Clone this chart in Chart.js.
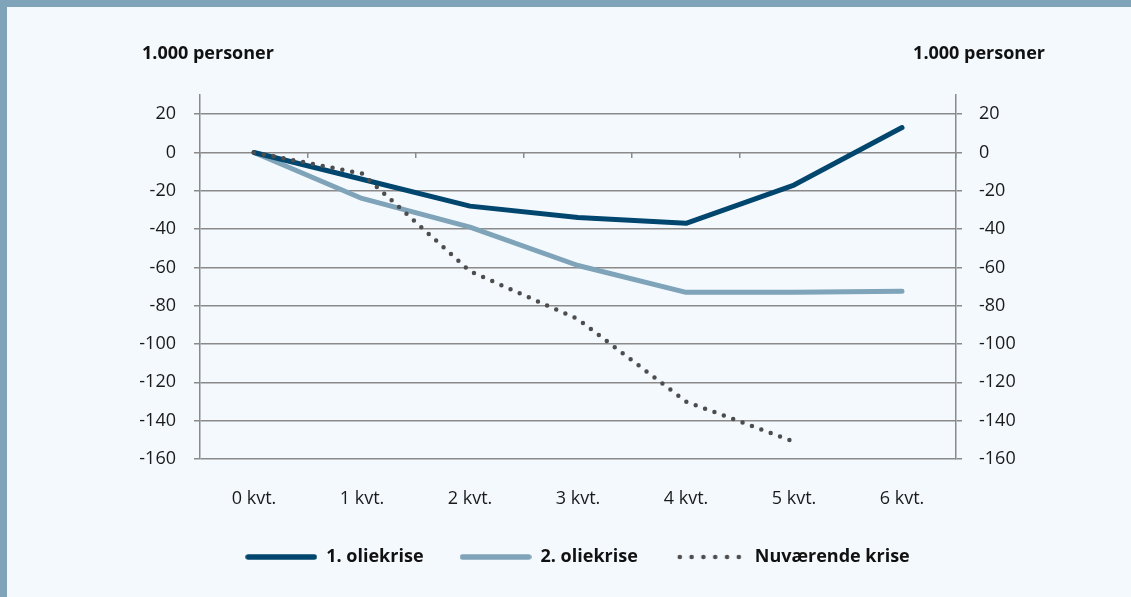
<!DOCTYPE html>
<html>
<head>
<meta charset="utf-8">
<script src="https://cdn.jsdelivr.net/npm/chart.js@4.4.1/dist/chart.umd.min.js"></script>
<style>
html, body { margin: 0; padding: 0; background: #f4f9fd; }
#wrap { position: relative; width: 1131px; height: 597px; overflow: hidden; }
#band { position: absolute; left: 0; top: 0; width: 1131px; height: 7px; background: #7fa3b8; }
#edge { position: absolute; left: 0; top: 0; width: 7px; height: 597px; background: #7fa3b8; }
.unit { position: absolute; top: 40px; font: bold 18px 'Open Sans'; color: #111; white-space: nowrap; }
canvas { position: absolute; left: 0; top: 0; }
</style>
</head>
<body>
<div id="wrap">
  <canvas id="chart" width="1131" height="597"></canvas>
  <div id="band"></div>
  <div id="edge"></div>
  <div class="unit" style="left:142px">1.000 personer</div>
  <div class="unit" style="right:86px">1.000 personer</div>
</div>
<script>
const CATEGORIES = ['0 kvt.', '1 kvt.', '2 kvt.', '3 kvt.', '4 kvt.', '5 kvt.', '6 kvt.']
const OLIEKRISE_1 = [0, -14, -28, -34, -37, -17, 13]
const OLIEKRISE_2 = [0, -24, -39, -59, -73, -73, -72.5]
const NUVAERENDE = [0, -11, -62, -87, -130, -151, null]
const Y_TICKS = [-160, -140, -120, -100, -80, -60, -40, -20, 0, 20]

const GRID = '#8a8a8a'
const DARK = '#00466e'
const LIGHT = '#7fa3b8'
const DOT_COLOR = '#4d4d4d'

Chart.defaults.font.family = "'Open Sans', sans-serif"
Chart.defaults.font.size = 18
Chart.defaults.color = '#1a1a1a'

// legend markers drawn on small canvases (point style 'line' ignores dashes and caps)
function marker(color, dotted) {
    const c = document.createElement('canvas')
    c.width = 72
    c.height = 8
    const ctx = c.getContext('2d')
    ctx.fillStyle = color
    ctx.strokeStyle = color
    if (dotted) {
        for (let i = 0; i < 6; i++) {
            ctx.beginPath()
            ctx.arc(6 + i * 11.8, 4, 2.3, 0, Math.PI * 2)
            ctx.fill()
        }
    } else {
        ctx.lineWidth = 5.5
        ctx.lineCap = 'round'
        ctx.beginPath()
        ctx.moveTo(3, 4)
        ctx.lineTo(69, 4)
        ctx.stroke()
    }
    return c
}

function yAxis(side) {
    return {
        axis: 'y',
        position: side,
        min: Y_TICKS[0],
        max: Y_TICKS[Y_TICKS.length - 1] + 10,
        afterBuildTicks: s => { s.ticks = Y_TICKS.map(v => ({ value: v })) },
        afterFit: s => { s.width = side === 'left' ? 176 : 175 },
        ticks: { padding: side === 'left' ? 18 : 17, callback: v => String(v) },
        grid: { color: GRID, lineWidth: 1.5, tickLength: 6, drawOnChartArea: side === 'left' },
        border: { color: GRID, width: 1.5 }
    }
}

new Chart(document.getElementById('chart'), {
    type: 'line',
    data: {
        labels: CATEGORIES,
        datasets: [{
            label: '1. oliekrise',
            data: OLIEKRISE_1,
            borderColor: DARK,
            borderWidth: 5,
            pointStyle: marker(DARK, false),
            order: 1
        }, {
            label: '2. oliekrise',
            data: OLIEKRISE_2,
            borderColor: LIGHT,
            borderWidth: 5,
            pointStyle: marker(LIGHT, false),
            order: 2
        }, {
            label: 'Nuværende krise',
            data: NUVAERENDE,
            borderColor: DOT_COLOR,
            borderWidth: 4.5,
            borderDash: [0, 10],
            pointStyle: marker(DOT_COLOR, true),
            order: 0
        }]
    },
    options: {
        responsive: false,
        animation: false,
        layout: { padding: { top: 95, bottom: 21, left: 24 } },
        elements: {
            point: { radius: 0 },
            line: { tension: 0, borderCapStyle: 'round', borderJoinStyle: 'round', fill: false }
        },
        scales: {
            x: {
                offset: true,
                afterFit: s => { s.height = 53 },
                ticks: { padding: 21 },
                grid: { display: false },
                border: { display: false }
            },
            zeroLine: {
                type: 'category',
                axis: 'x',
                position: { y: 0 },
                offset: true,
                ticks: { display: false },
                grid: { offset: true, drawOnChartArea: false, tickLength: 6, color: GRID, lineWidth: 1.5 },
                border: { display: false }
            },
            y: yAxis('left'),
            y2: yAxis('right')
        },
        plugins: {
            tooltip: { enabled: false },
            legend: {
                position: 'bottom',
                labels: {
                    usePointStyle: true,
                    pointStyleWidth: 72,
                    padding: 36,
                    color: '#111',
                    font: { weight: 'bold', size: 18 },
                    sort: (a, b) => a.datasetIndex - b.datasetIndex
                }
            }
        }
    }
})
</script>
</body>
</html>
